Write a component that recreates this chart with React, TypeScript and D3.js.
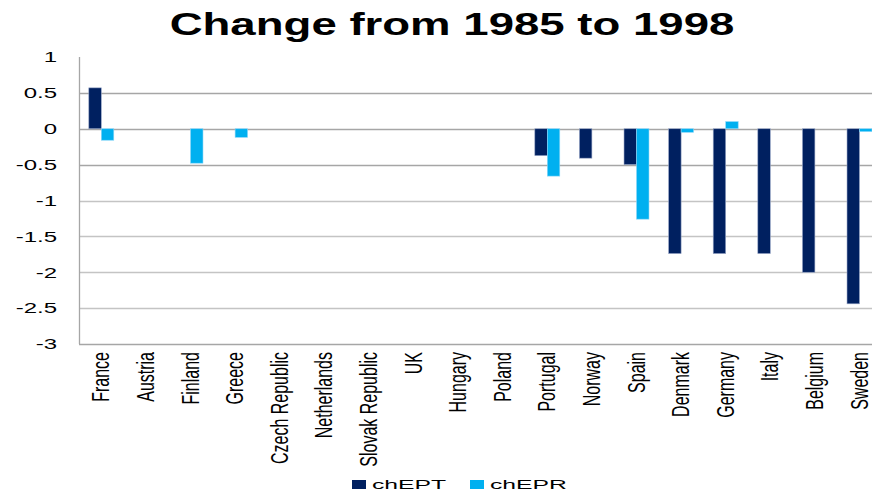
import React from "react";
import * as d3 from "d3";

const categories = [
  "France", "Austria", "Finland", "Greece", "Czech Republic", "Netherlands",
  "Slovak Republic", "UK", "Hungary", "Poland", "Portugal", "Norway", "Spain",
  "Denmark", "Germany", "Italy", "Belgium", "Sweden",
];
const chEPT: (number | null)[] = [
  0.57, null, null, null, null, null, null, null, null, null,
  -0.375, -0.41, -0.5, -1.74, -1.74, -1.74, -2.0, -2.44,
];
const chEPR: (number | null)[] = [
  -0.16, null, -0.48, -0.12, null, null, null, null, null, null,
  -0.66, null, -1.26, -0.05, 0.1, null, null, -0.04,
];
const seriesNames = ["chEPT", "chEPR"];
const seriesColors = ["#002060", "#00B0F0"];
const yTicks = [1, 0.5, 0, -0.5, -1, -1.5, -2, -2.5, -3];
const titleText = "Change from 1985 to 1998";

const W = 872;
const H = 496;
const plotLeft = 79;
const plotTop = 57;
const plotBottom = 344;
const step = 44.6;
const plotRight = plotLeft + step * categories.length;

export default function App() {
  const y = d3.scaleLinear().domain([-3, 1]).range([plotBottom, plotTop]);
  const x = d3
    .scaleBand<string>()
    .domain(categories)
    .range([plotLeft, plotRight])
    .paddingInner(0.44)
    .paddingOuter(0.22);
  const xs = d3.scaleBand<string>().domain(seriesNames).range([0, x.bandwidth()]);
  const series = [chEPT, chEPR];
  const font = "'Liberation Sans', Arial, sans-serif";

  return (
    <svg
      width={W}
      height={H}
      style={{ position: "absolute", left: 0, top: 0, background: "#fff" }}
      fontFamily={font}
    >
      <defs>
        <clipPath id="clip">
          <rect x={0} y={0} width={W} height={H} />
        </clipPath>
      </defs>
      <text
        transform={`translate(${452},35) scale(1.47,1)`}
        textAnchor="middle"
        fontSize={31}
        fontWeight="bold"
        fill="#000"
      >
        {titleText}
      </text>

      {/* gridlines */}
      {yTicks
        .filter((t) => t < 1 && t > -3)
        .map((t) => (
          <line
            key={t}
            x1={plotLeft}
            x2={W}
            y1={Math.round(y(t)) + 0.5}
            y2={Math.round(y(t)) + 0.5}
            stroke={t >= -0.5 ? "#a6a6a6" : "#c4c4c4"}
            strokeWidth={1.3}
          />
        ))}
      {/* axes */}
      <line x1={plotLeft + 0.5} x2={plotLeft + 0.5} y1={plotTop} y2={plotBottom} stroke="#a6a6a6" strokeWidth={1.3} />
      <line x1={plotLeft} x2={W} y1={plotBottom + 0.5} y2={plotBottom + 0.5} stroke="#a6a6a6" strokeWidth={1.3} />

      {/* bars */}
      <g clipPath="url(#clip)">
        {categories.map((c, i) =>
          series.map((s, k) => {
            const v = s[i];
            if (v === null || v === undefined) return null;
            const x0 = (x(c) as number) + (xs(seriesNames[k]) as number);
            const y0 = y(Math.max(0, v));
            const h = Math.abs(y(v) - y(0));
            return (
              <rect
                key={c + k}
                x={x0}
                y={y0}
                width={xs.bandwidth()}
                height={h}
                fill={seriesColors[k]}
                stroke={k === 0 ? "#9aa8c8" : "#8fd8f8"}
                strokeWidth={0.6}
              />
            );
          })
        )}
      </g>

      {/* y tick labels */}
      {yTicks.map((t) => (
        <text
          key={t}
          transform={`translate(57,${y(t)}) scale(1.6,1)`}
          textAnchor="end"
          dy="0.35em"
          fontSize={15}
          fill="#000"
        >
          {String(t).replace("-", "-")}
        </text>
      ))}

      {/* x labels */}
      {categories.map((c) => (
        <text
          key={c}
          transform={`translate(${(x(c) as number) + x.bandwidth() / 2},352) scale(1.46,1) rotate(-90)`}
          textAnchor="end"
          dy="0.35em"
          fontSize={16}
          fill="#000"
        >
          {c}
        </text>
      ))}

      {/* legend */}
      {seriesNames.map((n, k) => {
        const lx = k === 0 ? 352 : 470;
        return (
          <g key={n}>
            <rect x={lx} y={480} width={14} height={9} fill={seriesColors[k]} />
            <text
              transform={`translate(${lx + 20},489) scale(1.9,1)`}
              fontSize={13}
              fill="#000"
            >
              {n}
            </text>
          </g>
        );
      })}
    </svg>
  );
}
